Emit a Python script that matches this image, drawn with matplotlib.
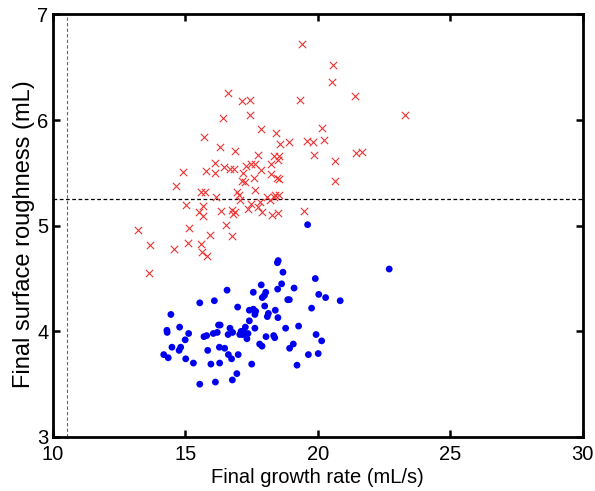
import numpy as np
import matplotlib
matplotlib.use("Agg")
import matplotlib.pyplot as plt

plt.rcParams['font.family'] = ['Liberation Sans', 'DejaVu Sans']

# Red crosses (upper group)
red_x = [19.42, 16.63, 17.13, 17.43, 19.33, 16.43, 17.46, 17.87, 18.44, 15.70,
         18.59, 18.92, 19.60, 19.82, 20.16, 20.25, 16.33, 16.87, 19.85, 17.76,
         18.36, 18.54, 18.51, 16.14, 16.45, 16.70, 16.83, 15.78, 14.91, 16.14,
         17.29, 17.48, 17.63, 17.86, 18.25, 17.18, 18.23, 18.46, 18.55, 17.61,
         17.13, 17.27, 14.66, 15.61, 15.76, 16.95, 17.03, 17.65, 16.17, 18.09,
         18.20, 18.34, 18.54, 18.40, 17.07, 15.02, 15.68, 17.49, 17.82, 17.76,
         17.36, 16.34, 16.75, 16.88, 15.53, 15.68, 17.91, 18.28, 18.51, 19.47,
         16.80, 20.57, 20.54, 21.40, 23.28, 20.66, 21.43, 21.67, 20.65, 13.21,
         13.67, 14.59, 15.13, 15.11, 15.61, 15.92, 16.55, 16.77, 15.65, 15.81,
         13.62]
red_y = [6.72, 6.26, 6.18, 6.19, 6.19, 6.02, 6.05, 5.92, 5.88, 5.84,
         5.77, 5.79, 5.80, 5.79, 5.93, 5.81, 5.75, 5.71, 5.67, 5.67,
         5.66, 5.66, 5.62, 5.59, 5.56, 5.54, 5.54, 5.52, 5.51, 5.50,
         5.57, 5.58, 5.58, 5.53, 5.58, 5.50, 5.49, 5.45, 5.44, 5.45,
         5.42, 5.41, 5.38, 5.32, 5.32, 5.32, 5.29, 5.34, 5.27, 5.27,
         5.24, 5.27, 5.29, 5.29, 5.24, 5.20, 5.19, 5.21, 5.22, 5.18,
         5.16, 5.14, 5.15, 5.13, 5.13, 5.09, 5.13, 5.10, 5.12, 5.14,
         5.11, 6.52, 6.36, 6.23, 6.05, 5.61, 5.69, 5.70, 5.42, 4.96,
         4.82, 4.78, 4.98, 4.84, 4.83, 4.91, 5.01, 4.90, 4.75, 4.71,
         4.55]

# Blue dots (lower group)
blue_x = [19.62, 18.51, 18.48, 18.69, 19.91, 17.87, 18.64, 19.11, 16.58, 17.57,
          18.04, 17.99, 17.91, 18.49, 20.04, 20.30, 18.87, 18.93, 15.55, 16.10,
          18.00, 16.98, 19.77, 17.42, 17.57, 17.66, 17.63, 18.40, 18.14, 18.10,
          18.50, 14.46, 14.79, 14.31, 14.32, 15.13, 15.00, 15.71, 15.81, 16.06,
          16.26, 16.32, 16.21, 16.69, 16.79, 16.62, 17.11, 17.19, 17.06, 17.16,
          17.28, 17.33, 17.37, 17.27, 17.42, 17.63, 18.05, 18.34, 18.38, 18.79,
          19.28, 17.81, 17.90, 19.08, 18.94, 19.94, 20.15, 14.50, 14.77, 14.83,
          15.85, 16.29, 16.49, 16.63, 16.75, 17.00, 14.19, 14.36, 15.02, 15.31,
          15.97, 16.30, 17.51, 19.65, 20.02, 19.22, 16.95, 16.78, 16.14, 15.55,
          22.70, 20.85]
blue_y = [5.01, 4.67, 4.65, 4.56, 4.50, 4.44, 4.45, 4.41, 4.39, 4.37,
          4.37, 4.34, 4.32, 4.40, 4.35, 4.32, 4.30, 4.30, 4.27, 4.29,
          4.24, 4.23, 4.22, 4.20, 4.21, 4.19, 4.16, 4.20, 4.17, 4.14,
          4.13, 4.16, 4.04, 4.01, 3.99, 3.98, 3.92, 3.95, 3.96, 3.98,
          4.06, 4.06, 3.99, 4.03, 3.99, 3.97, 4.00, 4.00, 3.97, 3.97,
          3.97, 3.93, 3.98, 4.04, 4.10, 4.03, 3.95, 3.96, 3.94, 4.03,
          4.05, 3.88, 3.86, 3.88, 3.84, 3.97, 3.91, 3.85, 3.82, 3.85,
          3.82, 3.85, 3.84, 3.78, 3.74, 3.78, 3.78, 3.75, 3.74, 3.70,
          3.69, 3.70, 3.69, 3.78, 3.79, 3.68, 3.60, 3.54, 3.52, 3.50,
          4.59, 4.29]

threshold_y = 5.254
threshold_x = 10.54

fig = plt.figure(figsize=(5.95, 4.91), dpi=100)
ax = fig.add_axes([0.0886, 0.110, 0.8906, 0.8605])

# dashed threshold lines
ax.axhline(threshold_y, color='black', linestyle=(0, (3, 2)), linewidth=0.9, zorder=1)
ax.axvline(threshold_x, color='#666666', linestyle=(0, (3, 2)), linewidth=0.8, zorder=1)

ax.scatter(red_x, red_y, marker='x', s=28, color='#ee3434', linewidths=0.8, zorder=2)
ax.scatter(blue_x, blue_y, marker='o', s=24, color='#0000ee', edgecolors='none', zorder=3)

ax.set_xlim(10, 30)
ax.set_ylim(3, 7)
ax.set_xticks([10, 15, 20, 25, 30])
ax.set_yticks([3, 4, 5, 6, 7])
ax.tick_params(direction='in', top=True, right=True, length=5, width=1.8, labelsize=14.5)
ax.tick_params(axis='x', pad=6)
ax.tick_params(axis='y', pad=3)
for s in ax.spines.values():
    s.set_linewidth(2)

ax.set_xlabel('Final growth rate (mL/s)', fontsize=14.5, labelpad=3)
ax.set_ylabel('Final surface roughness (mL)', fontsize=17, labelpad=2)
ax.yaxis.set_label_coords(-0.034, 0.48)

fig.savefig('out.png', dpi=100)
